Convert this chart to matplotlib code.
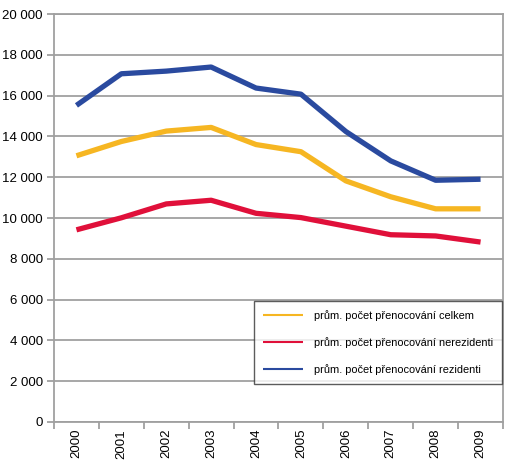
import matplotlib
matplotlib.use("Agg")
import matplotlib.pyplot as plt
import numpy as np

years = ["2000", "2001", "2002", "2003", "2004", "2005", "2006", "2007", "2008", "2009"]
celkem = [13050, 13750, 14260, 14440, 13600, 13250, 11820, 11040, 10450, 10450]
nerezidenti = [9420, 10010, 10690, 10870, 10230, 10020, 9600, 9180, 9120, 8820]
rezidenti = [15520, 17070, 17200, 17400, 16370, 16070, 14240, 12800, 11850, 11900]
labels = ["prům. počet přenocování celkem",
          "prům. počet přenocování nerezidenti",
          "prům. počet přenocování rezidenti"]
colors = ["#f6b622", "#e0103a", "#2a4a9f"]

plt.rcParams["font.family"] = ["Liberation Sans", "DejaVu Sans"]

fig = plt.figure(figsize=(5.10, 4.63), dpi=100)
ax = fig.add_axes([54/510, 41/463, 449/510, 408/463])

x = np.arange(len(years))
for vals, c, lab in zip([celkem, nerezidenti, rezidenti], colors, labels):
    ax.plot(x, vals, color=c, lw=3.8, label=lab, solid_capstyle="butt")

ax.set_xlim(-0.5, len(years) - 0.5)
ax.set_ylim(0, 20000)
yt = np.arange(0, 20001, 2000)
ax.set_yticks(yt)
ax.set_yticklabels([f"{v:,}".replace(",", " ") for v in yt], fontsize=9.5)
ax.yaxis.grid(True, color="#a0a0a0", lw=1.3)
ax.set_axisbelow(True)

ax.set_xticks(x)
ax.set_xticklabels(years, rotation=90, fontsize=9.5)
ax.tick_params(axis="x", length=0, pad=5)
ax.set_xticks(np.arange(-0.5, len(years), 1), minor=True)
ax.tick_params(axis="x", which="minor", length=5, width=1.3, color="#a0a0a0")
ax.tick_params(axis="y", length=5, width=1.3, color="#a0a0a0", pad=3)

for s in ["left", "bottom", "right", "top"]:
    ax.spines[s].set_color("#a0a0a0")
    ax.spines[s].set_linewidth(1.3)

leg = ax.legend(loc="lower right", bbox_to_anchor=(0.998, 0.093), fontsize=7.9,
                frameon=True, fancybox=False, handlelength=3.6, handletextpad=1.0,
                labelspacing=1.45, borderpad=0.85, borderaxespad=0.0)
leg.get_frame().set_edgecolor("#333333")
leg.get_frame().set_linewidth(1.0)
for h in leg.get_lines():
    h.set_linewidth(1.5)

fig.savefig("out.png", dpi=100)
